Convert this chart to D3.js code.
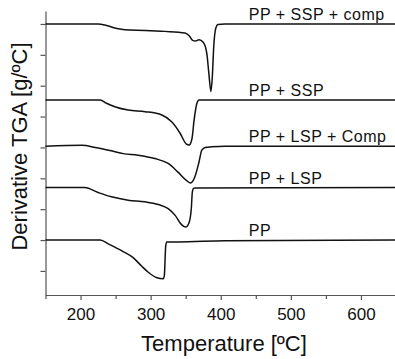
<!DOCTYPE html>
<html>
<head>
<meta charset="utf-8">
<script src="https://cdn.jsdelivr.net/npm/d3@7/dist/d3.min.js"></script>
<style>
  body { margin: 0; background: #fff; }
  svg { display: block; font-family: Arial, "Liberation Sans", Helvetica, sans-serif; }
  .axis path, .axis line { stroke: #555; stroke-width: 1.2; }
  .curve { fill: none; stroke: #111; stroke-width: 1.5; }
</style>
</head>
<body>
<svg class="dtga" width="395" height="359"></svg>
<script>
// series labels, top to bottom
var labels = ["PP + SSP + comp", "PP + SSP", "PP + LSP + Comp", "PP + LSP", "PP"];
// vertical offset of each curve (in tick units)
var offsets = [0, -2.46, -3.96, -5.30, -7.0];

// [temperature ºC, dTGA relative to its own baseline]
var ppSspComp = [[150,0],[225,0],[237,-0.05],[252,-0.15],[263,-0.19],[292,-0.21],[320,-0.24],
  [349,-0.29],[355,-0.38],[360,-0.53],[364,-0.55],[369,-0.51],[375,-0.59],[380,-0.94],
  [383,-1.59],[386,-2.19],[388,-1.70],[390,-0.73],[393,-0.13],[396,-0.02],[406,0],[650,0]];
var ppSsp = [[150,0],[228,0],[237,-0.11],[249,-0.22],[268,-0.33],[292,-0.38],[316,-0.49],
  [330,-0.71],[342,-1.08],[351,-1.43],[355,-1.46],[359,-1.25],[362,-0.65],[366,-0.11],
  [369,0],[650,0]];
var ppLspComp = [[150,0],[202,0.03],[221,-0.04],[244,-0.15],[261,-0.24],[282,-0.29],
  [306,-0.40],[325,-0.56],[339,-0.84],[351,-1.11],[357,-1.19],[363,-1.00],[369,-0.51],
  [373,-0.13],[378,-0.04],[387,-0.02],[406,0],[650,0]];
var ppLsp = [[150,0],[206,0],[225,-0.16],[244,-0.30],[268,-0.41],[292,-0.46],[311,-0.55],
  [325,-0.68],[335,-0.90],[344,-1.20],[350,-1.28],[355,-1.12],[358,-0.68],[359.5,-0.14],
  [361,-0.03],[363,-0.01],[650,0]];
var pp = [[150,0],[228,0],[240,-0.13],[259,-0.35],[275,-0.57],[287,-0.84],[297,-1.05],
  [309,-1.22],[318,-1.25],[319.5,-1.16],[321.5,-0.19],[323,-0.06],[339,-0.06],[406,-0.02],[650,0]];

var series = [ppSspComp, ppSsp, ppLspComp, ppLsp, pp];

var xMajor = [200, 300, 400, 500, 600];
var xMinor = [150, 250, 350, 450, 550];
var yTicks = [0, -1, -2, -3, -4, -5, -6, -7, -8];
var labelTemp = 440;

var svg = d3.select(".dtga");

var x = d3.scaleLinear().domain([150, 650]).range([45.5, 396]);
var y = d3.scaleLinear().domain([-8.78, 0.42]).range([295, 11]);

// x axis (major with labels, minor without)
var gx = svg.append("g")
  .attr("class", "axis")
  .attr("transform", "translate(0,295)")
  .call(d3.axisBottom(x).tickValues(xMajor).tickSize(5).tickSizeOuter(0).tickFormat(d3.format("d")));
gx.selectAll("text").attr("font-size", "17px").attr("fill", "#111").attr("dy", "1em");

svg.append("g")
  .attr("class", "axis")
  .attr("transform", "translate(0,295)")
  .call(d3.axisBottom(x).tickValues(xMinor).tickSize(4).tickFormat(""))
  .select(".domain").remove();

// y axis, ticks only
svg.append("g")
  .attr("class", "axis")
  .attr("transform", "translate(45.5,0)")
  .call(d3.axisLeft(y).tickValues(yTicks).tickSize(5).tickSizeOuter(0).tickFormat(""));

// curves
var line = function(off) {
  return d3.line()
    .x(d => x(d[0]))
    .y(d => y(d[1] + off))
    .curve(d3.curveMonotoneX);
};

series.forEach(function(s, i) {
  svg.append("path")
    .attr("class", "curve")
    .attr("d", line(offsets[i])(s));
});

// curve labels
svg.selectAll(".lbl")
  .data(labels)
  .enter().append("text")
  .attr("class", "lbl")
  .attr("x", x(labelTemp))
  .attr("y", (d, i) => y(offsets[i]) - 4)
  .attr("font-size", "16px")
  .attr("letter-spacing", "0.5px")
  .attr("fill", "#111")
  .text(d => d);

// axis titles
svg.append("text")
  .attr("x", 224)
  .attr("y", 351)
  .attr("text-anchor", "middle")
  .attr("font-size", "22px")
  .attr("fill", "#111")
  .text("Temperature [ºC]");

svg.append("text")
  .attr("transform", "translate(27,146.5) rotate(-90)")
  .attr("text-anchor", "middle")
  .attr("font-size", "22px")
  .attr("fill", "#111")
  .text("Derivative TGA [g/ºC]");
</script>
</body>
</html>
